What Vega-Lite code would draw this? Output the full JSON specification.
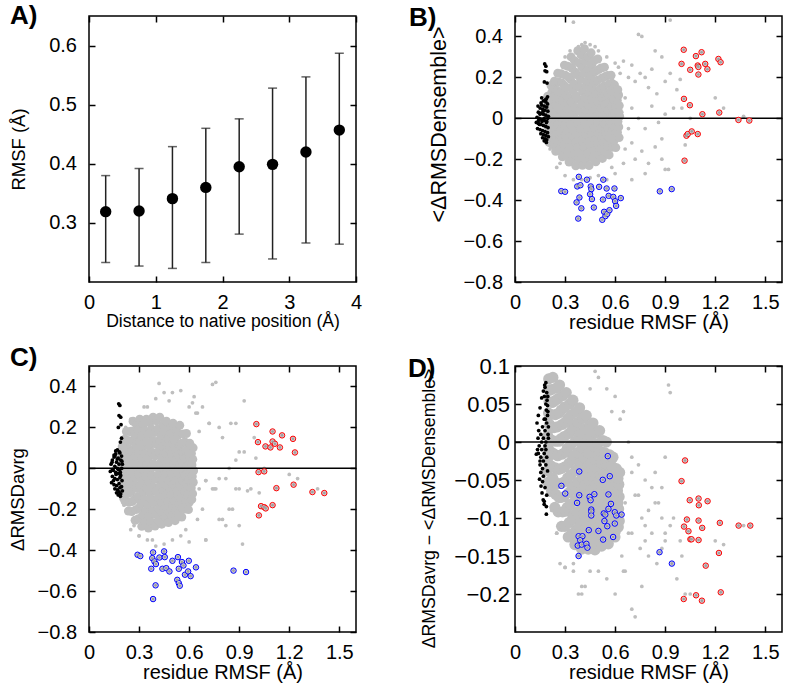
{
"$schema":"https://vega.github.io/schema/vega-lite/v6.json",
"background":"white",
"padding":{"left":7,"top":2,"right":5,"bottom":5},
"config":{
"font":"Liberation Sans",
"view":{"stroke":"#000000","strokeWidth":1.5},
"axis":{"domain":false,"grid":false,"ticks":true,"tickColor":"#000000","tickSize":-6,"tickWidth":1.5,"labelFont":"Liberation Sans","labelFontSize":20,"labelColor":"#000000","labelPadding":18.5,"labelFlush":false,"labelOverlap":false,"titleFont":"Liberation Sans","titleColor":"#000000","titleFontWeight":"normal","titleFontSize":20},
"axisX":{"labelPadding":16},
"axisY":{"labelPadding":18.5},
"title":{"font":"Liberation Sans","fontSize":26,"fontWeight":"bold","color":"#000000","anchor":"start","frame":"group"}
},
"datasets":{
"a":[
{"x":0.25,"m":0.319,"lo":0.233,"hi":0.38},
{"x":0.75,"m":0.32,"lo":0.227,"hi":0.392},
{"x":1.25,"m":0.341,"lo":0.223,"hi":0.429},
{"x":1.75,"m":0.36,"lo":0.233,"hi":0.46},
{"x":2.25,"m":0.395,"lo":0.281,"hi":0.476},
{"x":2.75,"m":0.399,"lo":0.239,"hi":0.528},
{"x":3.25,"m":0.42,"lo":0.266,"hi":0.547},
{"x":3.75,"m":0.457,"lo":0.264,"hi":0.587}
],
"core":[
{"x":0.204,"b":-0.118,"c":-0.034,"d":0.053},{"x":0.194,"b":-0.092,"c":0.078,"d":-0.023},{"x":0.202,"b":-0.068,"c":-0.118,"d":0.083},{"x":0.197,"b":-0.042,"c":0.022,"d":-0.053},{"x":0.207,"b":-0.018,"c":-0.146,"d":0.023},{"x":0.199,"b":0.008,"c":0.106,"d":-0.008},{"x":0.205,"b":0.032,"c":-0.062,"d":0.068},{"x":0.193,"b":0.058,"c":0.05,"d":-0.038},{"x":0.201,"b":0.082,"c":-0.09,"d":0.038},{"x":0.196,"b":0.108,"c":-0.006,"d":0.008},
{"x":0.224,"b":-0.128,"c":0.18,"d":0.019},{"x":0.214,"b":-0.096,"c":0.142,"d":0.036},{"x":0.222,"b":-0.064,"c":0.104,"d":0.052},{"x":0.217,"b":-0.032,"c":0.066,"d":0.069},{"x":0.227,"b":0.0,"c":0.028,"d":0.085},{"x":0.219,"b":0.032,"c":-0.01,"d":-0.064},{"x":0.225,"b":0.064,"c":-0.048,"d":-0.047},{"x":0.213,"b":0.096,"c":-0.086,"d":-0.031},{"x":0.221,"b":0.128,"c":-0.124,"d":-0.014},{"x":0.216,"b":0.16,"c":-0.162,"d":0.003},
{"x":0.244,"b":-0.161,"c":0.179,"d":0.001},{"x":0.234,"b":-0.123,"c":0.136,"d":0.019},{"x":0.242,"b":-0.085,"c":0.093,"d":0.036},{"x":0.237,"b":-0.047,"c":0.05,"d":0.054},{"x":0.247,"b":-0.009,"c":0.007,"d":0.071},{"x":0.239,"b":0.029,"c":-0.037,"d":-0.086},{"x":0.245,"b":0.067,"c":-0.08,"d":-0.069},{"x":0.233,"b":0.105,"c":-0.123,"d":-0.051},{"x":0.241,"b":0.143,"c":-0.166,"d":-0.034},{"x":0.236,"b":0.181,"c":-0.209,"d":-0.016},
{"x":0.264,"b":-0.158,"c":0.23,"d":0.001},{"x":0.254,"b":-0.116,"c":0.181,"d":0.02},{"x":0.262,"b":-0.074,"c":0.132,"d":0.038},{"x":0.257,"b":-0.032,"c":0.083,"d":0.057},{"x":0.267,"b":0.01,"c":0.034,"d":0.075},{"x":0.259,"b":0.052,"c":-0.015,"d":-0.092},{"x":0.265,"b":0.094,"c":-0.064,"d":-0.073},{"x":0.253,"b":0.136,"c":-0.113,"d":-0.055},{"x":0.261,"b":0.178,"c":-0.162,"d":-0.036},{"x":0.256,"b":0.22,"c":-0.211,"d":-0.018},
{"x":0.284,"b":-0.188,"c":0.214,"d":-0.016},{"x":0.274,"b":-0.143,"c":0.162,"d":0.004},{"x":0.282,"b":-0.098,"c":0.11,"d":0.023},{"x":0.277,"b":-0.053,"c":0.058,"d":0.042},{"x":0.287,"b":-0.008,"c":0.006,"d":0.061},{"x":0.279,"b":0.038,"c":-0.046,"d":-0.111},{"x":0.285,"b":0.083,"c":-0.098,"d":-0.092},{"x":0.273,"b":0.128,"c":-0.15,"d":-0.073},{"x":0.281,"b":0.173,"c":-0.202,"d":-0.054},{"x":0.276,"b":0.218,"c":-0.254,"d":-0.035},
{"x":0.304,"b":-0.181,"c":0.24,"d":-0.013},{"x":0.294,"b":-0.132,"c":0.186,"d":0.007},{"x":0.302,"b":-0.083,"c":0.132,"d":0.026},{"x":0.297,"b":-0.034,"c":0.078,"d":0.046},{"x":0.307,"b":0.015,"c":0.024,"d":0.065},{"x":0.299,"b":0.064,"c":-0.03,"d":-0.111},{"x":0.305,"b":0.113,"c":-0.084,"d":-0.091},{"x":0.293,"b":0.162,"c":-0.138,"d":-0.072},{"x":0.301,"b":0.211,"c":-0.192,"d":-0.052},{"x":0.296,"b":0.26,"c":-0.246,"d":-0.033},
{"x":0.324,"b":-0.214,"c":0.213,"d":-0.028},{"x":0.314,"b":-0.162,"c":0.158,"d":-0.008},{"x":0.322,"b":-0.11,"c":0.103,"d":0.011},{"x":0.317,"b":-0.058,"c":0.048,"d":0.031},{"x":0.327,"b":-0.006,"c":-0.008,"d":0.05},{"x":0.319,"b":0.046,"c":-0.063,"d":-0.125},{"x":0.325,"b":0.098,"c":-0.118,"d":-0.106},{"x":0.313,"b":0.15,"c":-0.173,"d":-0.086},{"x":0.321,"b":0.202,"c":-0.228,"d":-0.067},{"x":0.316,"b":0.254,"c":-0.283,"d":-0.047},
{"x":0.344,"b":-0.195,"c":0.24,"d":-0.023},{"x":0.334,"b":-0.14,"c":0.184,"d":-0.004},{"x":0.342,"b":-0.085,"c":0.128,"d":0.016},{"x":0.337,"b":-0.03,"c":0.072,"d":0.036},{"x":0.347,"b":0.025,"c":0.016,"d":0.055},{"x":0.339,"b":0.08,"c":-0.04,"d":-0.121},{"x":0.345,"b":0.135,"c":-0.096,"d":-0.101},{"x":0.333,"b":0.19,"c":-0.152,"d":-0.082},{"x":0.341,"b":0.245,"c":-0.208,"d":-0.062},{"x":0.336,"b":0.3,"c":-0.264,"d":-0.043},
{"x":0.364,"b":-0.232,"c":0.222,"d":-0.038},{"x":0.354,"b":-0.175,"c":0.165,"d":-0.018},{"x":0.362,"b":-0.118,"c":0.108,"d":0.001},{"x":0.357,"b":-0.061,"c":0.051,"d":0.021},{"x":0.367,"b":-0.004,"c":-0.007,"d":0.04},{"x":0.359,"b":0.054,"c":-0.064,"d":-0.135},{"x":0.365,"b":0.111,"c":-0.121,"d":-0.116},{"x":0.353,"b":0.168,"c":-0.178,"d":-0.096},{"x":0.361,"b":0.225,"c":-0.235,"d":-0.077},{"x":0.356,"b":0.282,"c":-0.292,"d":-0.057},
{"x":0.384,"b":-0.201,"c":0.25,"d":-0.033},{"x":0.374,"b":-0.142,"c":0.193,"d":-0.014},{"x":0.382,"b":-0.083,"c":0.136,"d":0.006},{"x":0.377,"b":-0.024,"c":0.079,"d":0.026},{"x":0.387,"b":0.035,"c":0.022,"d":0.045},{"x":0.379,"b":0.094,"c":-0.035,"d":-0.131},{"x":0.385,"b":0.153,"c":-0.092,"d":-0.111},{"x":0.373,"b":0.212,"c":-0.149,"d":-0.092},{"x":0.381,"b":0.271,"c":-0.206,"d":-0.072},{"x":0.376,"b":0.33,"c":-0.263,"d":-0.053},
{"x":0.404,"b":-0.23,"c":0.232,"d":-0.046},{"x":0.394,"b":-0.17,"c":0.175,"d":-0.027},{"x":0.402,"b":-0.11,"c":0.118,"d":-0.008},{"x":0.397,"b":-0.05,"c":0.061,"d":0.012},{"x":0.407,"b":0.01,"c":0.004,"d":0.031},{"x":0.399,"b":0.07,"c":-0.054,"d":-0.141},{"x":0.405,"b":0.13,"c":-0.111,"d":-0.122},{"x":0.393,"b":0.19,"c":-0.168,"d":-0.103},{"x":0.401,"b":0.25,"c":-0.225,"d":-0.084},{"x":0.396,"b":0.31,"c":-0.282,"d":-0.065},
{"x":0.424,"b":-0.2,"c":0.25,"d":-0.039},{"x":0.414,"b":-0.14,"c":0.194,"d":-0.021},{"x":0.422,"b":-0.08,"c":0.138,"d":-0.002},{"x":0.417,"b":-0.02,"c":0.082,"d":0.017},{"x":0.427,"b":0.04,"c":0.026,"d":0.035},{"x":0.419,"b":0.1,"c":-0.03,"d":-0.132},{"x":0.425,"b":0.16,"c":-0.086,"d":-0.113},{"x":0.413,"b":0.22,"c":-0.142,"d":-0.095},{"x":0.421,"b":0.28,"c":-0.198,"d":-0.076},{"x":0.416,"b":0.34,"c":-0.254,"d":-0.058},
{"x":0.444,"b":-0.231,"c":0.213,"d":-0.051},{"x":0.434,"b":-0.172,"c":0.159,"d":-0.033},{"x":0.442,"b":-0.113,"c":0.105,"d":-0.015},{"x":0.437,"b":-0.054,"c":0.051,"d":0.003},{"x":0.447,"b":0.006,"c":-0.003,"d":0.021},{"x":0.439,"b":0.065,"c":-0.057,"d":-0.141},{"x":0.445,"b":0.124,"c":-0.111,"d":-0.123},{"x":0.433,"b":0.183,"c":-0.165,"d":-0.105},{"x":0.441,"b":0.242,"c":-0.219,"d":-0.087},{"x":0.436,"b":0.301,"c":-0.273,"d":-0.069},
{"x":0.464,"b":-0.193,"c":0.23,"d":-0.045},{"x":0.454,"b":-0.136,"c":0.178,"d":-0.028},{"x":0.462,"b":-0.079,"c":0.126,"d":-0.01},{"x":0.457,"b":-0.022,"c":0.074,"d":0.008},{"x":0.467,"b":0.035,"c":0.022,"d":0.025},{"x":0.459,"b":0.092,"c":-0.03,"d":-0.133},{"x":0.465,"b":0.149,"c":-0.082,"d":-0.115},{"x":0.453,"b":0.206,"c":-0.134,"d":-0.098},{"x":0.461,"b":0.263,"c":-0.186,"d":-0.08},{"x":0.456,"b":0.32,"c":-0.238,"d":-0.063},
{"x":0.484,"b":-0.213,"c":0.195,"d":-0.057},{"x":0.474,"b":-0.158,"c":0.144,"d":-0.04},{"x":0.482,"b":-0.103,"c":0.093,"d":-0.023},{"x":0.477,"b":-0.048,"c":0.042,"d":-0.006},{"x":0.487,"b":0.008,"c":-0.01,"d":0.012},{"x":0.479,"b":0.063,"c":-0.061,"d":-0.142},{"x":0.485,"b":0.118,"c":-0.112,"d":-0.125},{"x":0.473,"b":0.173,"c":-0.163,"d":-0.108},{"x":0.481,"b":0.228,"c":-0.214,"d":-0.091},{"x":0.476,"b":0.283,"c":-0.265,"d":-0.074},
{"x":0.504,"b":-0.178,"c":0.22,"d":-0.051},{"x":0.494,"b":-0.126,"c":0.17,"d":-0.035},{"x":0.502,"b":-0.074,"c":0.12,"d":-0.018},{"x":0.497,"b":-0.022,"c":0.07,"d":-0.002},{"x":0.507,"b":0.03,"c":0.02,"d":0.015},{"x":0.499,"b":0.082,"c":-0.03,"d":-0.134},{"x":0.505,"b":0.134,"c":-0.08,"d":-0.117},{"x":0.493,"b":0.186,"c":-0.13,"d":-0.101},{"x":0.501,"b":0.238,"c":-0.18,"d":-0.084},{"x":0.496,"b":0.29,"c":-0.23,"d":-0.068},
{"x":0.524,"b":-0.196,"c":0.186,"d":-0.06},{"x":0.514,"b":-0.147,"c":0.137,"d":-0.044},{"x":0.522,"b":-0.098,"c":0.088,"d":-0.029},{"x":0.517,"b":-0.049,"c":0.039,"d":-0.013},{"x":0.527,"b":0.001,"c":-0.011,"d":0.002},{"x":0.519,"b":0.05,"c":-0.06,"d":-0.137},{"x":0.525,"b":0.099,"c":-0.109,"d":-0.122},{"x":0.513,"b":0.148,"c":-0.158,"d":-0.106},{"x":0.521,"b":0.197,"c":-0.207,"d":-0.091},{"x":0.516,"b":0.246,"c":-0.256,"d":-0.075},
{"x":0.544,"b":-0.164,"c":0.21,"d":-0.056},{"x":0.534,"b":-0.118,"c":0.162,"d":-0.042},{"x":0.542,"b":-0.072,"c":0.114,"d":-0.028},{"x":0.537,"b":-0.026,"c":0.066,"d":-0.014},{"x":0.547,"b":0.02,"c":0.018,"d":0.0},{"x":0.539,"b":0.066,"c":-0.03,"d":-0.126},{"x":0.545,"b":0.112,"c":-0.078,"d":-0.112},{"x":0.533,"b":0.158,"c":-0.126,"d":-0.098},{"x":0.541,"b":0.204,"c":-0.174,"d":-0.084},{"x":0.536,"b":0.25,"c":-0.222,"d":-0.07},
{"x":0.564,"b":-0.179,"c":0.168,"d":-0.069},{"x":0.554,"b":-0.136,"c":0.123,"d":-0.056},{"x":0.562,"b":-0.093,"c":0.078,"d":-0.043},{"x":0.557,"b":-0.05,"c":0.033,"d":-0.03},{"x":0.567,"b":-0.007,"c":-0.013,"d":-0.017},{"x":0.559,"b":0.037,"c":-0.058,"d":-0.134},{"x":0.565,"b":0.08,"c":-0.103,"d":-0.121},{"x":0.553,"b":0.123,"c":-0.148,"d":-0.108},{"x":0.561,"b":0.166,"c":-0.193,"d":-0.095},{"x":0.556,"b":0.209,"c":-0.238,"d":-0.082},
{"x":0.584,"b":-0.141,"c":0.17,"d":-0.064},{"x":0.574,"b":-0.102,"c":0.129,"d":-0.053},{"x":0.582,"b":-0.063,"c":0.088,"d":-0.042},{"x":0.577,"b":-0.024,"c":0.047,"d":-0.031},{"x":0.587,"b":0.015,"c":0.006,"d":-0.02},{"x":0.579,"b":0.054,"c":-0.035,"d":-0.119},{"x":0.585,"b":0.093,"c":-0.076,"d":-0.108},{"x":0.573,"b":0.132,"c":-0.117,"d":-0.097},{"x":0.581,"b":0.171,"c":-0.158,"d":-0.086},{"x":0.576,"b":0.21,"c":-0.199,"d":-0.075},
{"x":0.604,"b":-0.143,"c":0.122,"d":-0.075},{"x":0.594,"b":-0.109,"c":0.086,"d":-0.065},{"x":0.602,"b":-0.075,"c":0.05,"d":-0.055},{"x":0.597,"b":-0.041,"c":0.014,"d":-0.045},{"x":0.607,"b":-0.007,"c":-0.022,"d":-0.035},{"x":0.599,"b":0.027,"c":-0.058,"d":-0.125},{"x":0.605,"b":0.061,"c":-0.094,"d":-0.115},{"x":0.593,"b":0.095,"c":-0.13,"d":-0.105},{"x":0.601,"b":0.129,"c":-0.166,"d":-0.095},{"x":0.596,"b":0.163,"c":-0.202,"d":-0.085},
{"x":0.624,"b":-0.094,"c":0.1,"d":-0.072},{"x":0.614,"b":-0.068,"c":0.072,"d":-0.064},{"x":0.622,"b":-0.042,"c":0.044,"d":-0.056},{"x":0.617,"b":-0.016,"c":0.016,"d":-0.048},{"x":0.627,"b":0.01,"c":-0.012,"d":-0.04},{"x":0.619,"b":0.036,"c":-0.04,"d":-0.112},{"x":0.625,"b":0.062,"c":-0.068,"d":-0.104},{"x":0.613,"b":0.088,"c":-0.096,"d":-0.096},{"x":0.621,"b":0.114,"c":-0.124,"d":-0.088},{"x":0.616,"b":0.14,"c":-0.152,"d":-0.08}
],
"sparse":[
{"x":0.35,"b":0.47,"c":0.3,"d":-0.17},{"x":0.93,"b":0.48,"c":0.33,"d":0.065},{"x":0.74,"b":0.41,"c":0.41,"d":-0.03},{"x":0.76,"b":0.4,"c":0.42,"d":-0.19},{"x":0.42,"b":0.37,"c":0.415,"d":-0.19},{"x":0.4,"b":0.36,"c":0.34,"d":-0.2},{"x":0.3,"b":0.3,"c":-0.33,"d":-0.165},{"x":0.33,"b":0.33,"c":0.3,"d":0.06},{"x":0.38,"b":0.35,"c":-0.35,"d":-0.2},{"x":0.45,"b":0.36,"c":0.37,"d":0.07},{"x":0.5,"b":0.33,"c":0.37,"d":0.085},{"x":0.55,"b":0.3,"c":0.38,"d":0.07},{"x":0.6,"b":0.27,"c":0.3,"d":0.06},{"x":0.63,"b":0.22,"c":0.35,"d":0.03},{"x":0.65,"b":0.28,"c":0.27,"d":0.04},{"x":0.68,"b":0.2,"c":0.3,"d":0.0},{"x":0.7,"b":0.26,"c":-0.06,"d":-0.02},{"x":0.72,"b":0.18,"c":0.22,"d":-0.07},{"x":0.75,"b":0.22,"c":-0.1,"d":-0.14},{"x":0.78,"b":0.2,"c":0.2,"d":-0.05},{"x":0.8,"b":0.15,"c":0.15,"d":-0.15},{"x":0.82,"b":0.24,"c":-0.28,"d":-0.12},{"x":0.85,"b":0.12,"c":0.22,"d":-0.16},{"x":0.88,"b":0.3,"c":0.04,"d":-0.1},{"x":0.9,"b":0.18,"c":0.08,"d":-0.02},{"x":0.93,"b":0.22,"c":0.08,"d":-0.11},{"x":0.97,"b":0.14,"c":-0.1,"d":-0.18},{"x":0.95,"b":0.05,"c":-0.11,"d":-0.1},{"x":0.84,"b":0.33,"c":0.0,"d":-0.08},{"x":0.66,"b":0.1,"c":0.18,"d":-0.08},{"x":0.7,"b":0.05,"c":-0.35,"d":-0.22},{"x":0.74,"b":0.0,"c":-0.1,"d":-0.07},{"x":0.78,"b":-0.05,"c":-0.05,"d":-0.13},{"x":0.82,"b":0.06,"c":-0.05,"d":-0.06},{"x":0.86,"b":-0.02,"c":-0.2,"d":-0.08},{"x":0.9,"b":0.02,"c":-0.28,"d":-0.13},{"x":0.68,"b":-0.05,"c":-0.2,"d":-0.12},{"x":0.64,"b":0.03,"c":0.27,"d":-0.15},{"x":0.66,"b":-0.15,"c":-0.1,"d":-0.17},{"x":0.7,"b":-0.12,"c":-0.06,"d":-0.12},{"x":0.72,"b":-0.2,"c":0.22,"d":-0.23},{"x":0.76,"b":-0.16,"c":-0.1,"d":-0.1},{"x":0.8,"b":-0.22,"c":-0.25,"d":-0.09},{"x":0.84,"b":-0.14,"c":-0.2,"d":-0.04},{"x":0.88,"b":-0.2,"c":-0.1,"d":-0.06},{"x":0.9,"b":-0.25,"c":-0.1,"d":-0.12},{"x":0.92,"b":-0.25,"c":-0.37,"d":0.075},{"x":0.78,"b":-0.27,"c":-0.25,"d":-0.11},{"x":0.7,"b":-0.3,"c":-0.35,"d":-0.04},{"x":0.65,"b":-0.22,"c":-0.25,"d":-0.17},{"x":0.3,"b":-0.28,"c":-0.33,"d":-0.165},{"x":0.35,"b":-0.3,"c":-0.35,"d":-0.16},{"x":0.4,"b":-0.3,"c":-0.38,"d":-0.19},{"x":0.45,"b":-0.29,"c":-0.37,"d":-0.17},{"x":0.5,"b":-0.28,"c":-0.35,"d":-0.17},{"x":0.55,"b":-0.3,"c":-0.33,"d":-0.18},{"x":0.6,"b":-0.27,"c":-0.36,"d":-0.2},{"x":0.25,"b":-0.24,"c":-0.3,"d":-0.12},{"x":0.27,"b":-0.22,"c":-0.28,"d":-0.16},{"x":1.37,"b":0.01,"c":-0.1,"d":-0.11},{"x":1.0,"b":0.05,"c":0.05,"d":-0.15},{"x":0.99,"b":0.19,"c":0.15,"d":-0.13},{"x":1.02,"b":-0.13,"c":-0.12,"d":-0.2},{"x":1.05,"b":0.0,"c":0.0,"d":-0.2},{"x":1.2,"b":0.1,"c":-0.03,"d":-0.13},{"x":1.25,"b":0.05,"c":-0.05,"d":-0.135},{"x":0.62,"b":0.25,"c":0.32,"d":-0.12},{"x":0.58,"b":-0.24,"c":-0.3,"d":0.04},{"x":0.48,"b":0.35,"c":0.33,"d":0.093},{"x":0.21,"b":-0.15,"c":-0.18,"d":-0.07},{"x":0.22,"b":0.17,"c":0.2,"d":-0.09},{"x":0.25,"b":0.22,"c":0.24,"d":-0.12},{"x":0.88,"b":-0.1,"c":0.22,"d":-0.14}
],
"blk":[
{"x":0.178,"b":0.266,"c":0.315,"d":0.075},{"x":0.185,"b":0.255,"c":0.307,"d":0.078},{"x":0.18,"b":0.232,"c":0.258,"d":0.072},{"x":0.19,"b":0.228,"c":0.25,"d":0.065},{"x":0.176,"b":0.178,"c":0.2,"d":0.06},{"x":0.192,"b":0.172,"c":0.213,"d":0.055},{"x":0.195,"b":0.105,"c":0.147,"d":0.048},{"x":0.188,"b":0.095,"c":0.128,"d":0.042},{"x":0.17,"b":0.085,"c":0.09,"d":0.067},{"x":0.185,"b":0.08,"c":0.075,"d":0.05},{"x":0.195,"b":0.07,"c":0.06,"d":0.035},{"x":0.16,"b":0.065,"c":0.07,"d":0.058},{"x":0.175,"b":0.06,"c":0.05,"d":0.03},{"x":0.19,"b":0.055,"c":0.04,"d":0.025},{"x":0.15,"b":0.05,"c":0.055,"d":0.045},{"x":0.165,"b":0.045,"c":0.03,"d":0.02},{"x":0.18,"b":0.04,"c":0.02,"d":0.015},{"x":0.197,"b":0.035,"c":0.035,"d":0.04},{"x":0.14,"b":0.03,"c":0.04,"d":0.035},{"x":0.155,"b":0.025,"c":0.01,"d":0.01},{"x":0.17,"b":0.02,"c":0.0,"d":0.005},{"x":0.185,"b":0.015,"c":-0.005,"d":0.0},{"x":0.2,"b":0.01,"c":0.02,"d":0.02},{"x":0.132,"b":0.005,"c":0.02,"d":0.025},{"x":0.145,"b":0.0,"c":-0.01,"d":-0.005},{"x":0.16,"b":-0.005,"c":-0.02,"d":-0.01},{"x":0.175,"b":-0.01,"c":-0.025,"d":-0.015},{"x":0.19,"b":-0.015,"c":-0.035,"d":-0.02},{"x":0.128,"b":-0.02,"c":-0.015,"d":-0.016},{"x":0.14,"b":-0.025,"c":-0.04,"d":-0.015},{"x":0.155,"b":-0.03,"c":-0.05,"d":-0.02},{"x":0.17,"b":-0.035,"c":-0.055,"d":-0.025},{"x":0.185,"b":-0.04,"c":-0.045,"d":-0.03},{"x":0.198,"b":-0.045,"c":-0.06,"d":0.01},{"x":0.135,"b":-0.05,"c":-0.07,"d":-0.01},{"x":0.15,"b":-0.055,"c":-0.08,"d":-0.03},{"x":0.165,"b":-0.06,"c":-0.085,"d":-0.035},{"x":0.18,"b":-0.065,"c":-0.075,"d":-0.005},{"x":0.195,"b":-0.07,"c":-0.09,"d":-0.038},{"x":0.155,"b":-0.075,"c":-0.1,"d":-0.04},{"x":0.17,"b":-0.08,"c":-0.105,"d":-0.045},{"x":0.185,"b":-0.085,"c":-0.095,"d":-0.01},{"x":0.2,"b":-0.09,"c":-0.11,"d":0.005},{"x":0.165,"b":-0.095,"c":-0.12,"d":-0.052},{"x":0.18,"b":-0.1,"c":-0.115,"d":-0.06},{"x":0.19,"b":-0.105,"c":-0.125,"d":-0.07},{"x":0.175,"b":-0.11,"c":-0.13,"d":-0.078},{"x":0.188,"b":-0.118,"c":-0.137,"d":-0.085},{"x":0.147,"b":-0.03,"c":-0.06,"d":-0.049},{"x":0.156,"b":0.075,"c":0.06,"d":-0.058},{"x":0.162,"b":-0.015,"c":-0.03,"d":-0.067},{"x":0.169,"b":0.035,"c":0.045,"d":-0.076},{"x":0.175,"b":0.0,"c":-0.005,"d":-0.082},{"x":0.188,"b":-0.02,"c":-0.02,"d":-0.095},{"x":0.138,"b":0.06,"c":0.03,"d":0.005},{"x":0.142,"b":-0.01,"c":-0.005,"d":0.015},{"x":0.15,"b":0.02,"c":0.065,"d":-0.025},{"x":0.196,"b":0.0,"c":0.0,"d":0.06},{"x":0.182,"b":0.09,"c":0.08,"d":0.03},{"x":0.16,"b":0.1,"c":0.085,"d":0.0}
],
"hl":[
{"p":"B","g":"red","x":1.011,"y":0.335},{"p":"B","g":"red","x":0.998,"y":0.266},{"p":"B","g":"red","x":1.084,"y":0.304},{"p":"B","g":"red","x":1.118,"y":0.323},{"p":"B","g":"red","x":1.095,"y":0.258},{"p":"B","g":"red","x":1.099,"y":0.251},{"p":"B","g":"red","x":1.05,"y":0.237},{"p":"B","g":"red","x":1.099,"y":0.214},{"p":"B","g":"red","x":1.14,"y":0.266},{"p":"B","g":"red","x":1.153,"y":0.24},{"p":"B","g":"red","x":1.219,"y":0.29},{"p":"B","g":"red","x":1.232,"y":0.274},{"p":"B","g":"red","x":1.0125,"y":0.095},{"p":"B","g":"red","x":1.048,"y":0.064},{"p":"B","g":"red","x":1.123,"y":0.02},{"p":"B","g":"red","x":1.224,"y":0.028},{"p":"B","g":"red","x":1.339,"y":-0.008},{"p":"B","g":"red","x":1.404,"y":-0.011},{"p":"B","g":"red","x":1.0275,"y":-0.085},{"p":"B","g":"red","x":1.035,"y":-0.077},{"p":"B","g":"red","x":1.059,"y":-0.064},{"p":"B","g":"red","x":1.095,"y":-0.077},{"p":"B","g":"red","x":1.016,"y":-0.207},
{"p":"B","g":"blue","x":0.2775,"y":-0.356},{"p":"B","g":"blue","x":0.3,"y":-0.359},{"p":"B","g":"blue","x":0.369,"y":-0.411},{"p":"B","g":"blue","x":0.373,"y":-0.333},{"p":"B","g":"blue","x":0.379,"y":-0.49},{"p":"B","g":"blue","x":0.3825,"y":-0.286},{"p":"B","g":"blue","x":0.386,"y":-0.387},{"p":"B","g":"blue","x":0.392,"y":-0.327},{"p":"B","g":"blue","x":0.3975,"y":-0.44},{"p":"B","g":"blue","x":0.431,"y":-0.3},{"p":"B","g":"blue","x":0.45,"y":-0.371},{"p":"B","g":"blue","x":0.454,"y":-0.333},{"p":"B","g":"blue","x":0.4575,"y":-0.346},{"p":"B","g":"blue","x":0.461,"y":-0.395},{"p":"B","g":"blue","x":0.4725,"y":-0.436},{"p":"B","g":"blue","x":0.504,"y":-0.335},{"p":"B","g":"blue","x":0.523,"y":-0.496},{"p":"B","g":"blue","x":0.527,"y":-0.397},{"p":"B","g":"blue","x":0.529,"y":-0.3},{"p":"B","g":"blue","x":0.534,"y":-0.457},{"p":"B","g":"blue","x":0.542,"y":-0.478},{"p":"B","g":"blue","x":0.549,"y":-0.343},{"p":"B","g":"blue","x":0.553,"y":-0.467},{"p":"B","g":"blue","x":0.561,"y":-0.379},{"p":"B","g":"blue","x":0.566,"y":-0.449},{"p":"B","g":"blue","x":0.589,"y":-0.384},{"p":"B","g":"blue","x":0.596,"y":-0.343},{"p":"B","g":"blue","x":0.6,"y":-0.405},{"p":"B","g":"blue","x":0.606,"y":-0.428},{"p":"B","g":"blue","x":0.634,"y":-0.39},{"p":"B","g":"blue","x":0.868,"y":-0.357},{"p":"B","g":"blue","x":0.939,"y":-0.346},
{"p":"C","g":"red","x":1.003,"y":0.216},{"p":"C","g":"red","x":1.0125,"y":0.128},{"p":"C","g":"red","x":1.0575,"y":0.107},{"p":"C","g":"red","x":1.0875,"y":0.102},{"p":"C","g":"red","x":1.1,"y":0.18},{"p":"C","g":"red","x":1.1,"y":0.131},{"p":"C","g":"red","x":1.114,"y":0.12},{"p":"C","g":"red","x":1.144,"y":0.102},{"p":"C","g":"red","x":1.157,"y":0.161},{"p":"C","g":"red","x":1.2225,"y":0.144},{"p":"C","g":"red","x":1.234,"y":0.0775},{"p":"C","g":"red","x":1.016,"y":-0.0186},{"p":"C","g":"red","x":1.05,"y":-0.015},{"p":"C","g":"red","x":1.123,"y":-0.097},{"p":"C","g":"red","x":1.226,"y":-0.08},{"p":"C","g":"red","x":1.339,"y":-0.116},{"p":"C","g":"red","x":1.41,"y":-0.121},{"p":"C","g":"red","x":1.031,"y":-0.185},{"p":"C","g":"red","x":1.05,"y":-0.19},{"p":"C","g":"red","x":1.059,"y":-0.196},{"p":"C","g":"red","x":1.1,"y":-0.18},{"p":"C","g":"red","x":1.018,"y":-0.23},
{"p":"C","g":"blue","x":0.291,"y":-0.4225},{"p":"C","g":"blue","x":0.3075,"y":-0.429},{"p":"C","g":"blue","x":0.373,"y":-0.491},{"p":"C","g":"blue","x":0.379,"y":-0.439},{"p":"C","g":"blue","x":0.384,"y":-0.411},{"p":"C","g":"blue","x":0.384,"y":-0.639},{"p":"C","g":"blue","x":0.392,"y":-0.455},{"p":"C","g":"blue","x":0.399,"y":-0.572},{"p":"C","g":"blue","x":0.401,"y":-0.468},{"p":"C","g":"blue","x":0.422,"y":-0.436},{"p":"C","g":"blue","x":0.44,"y":-0.491},{"p":"C","g":"blue","x":0.45,"y":-0.406},{"p":"C","g":"blue","x":0.454,"y":-0.434},{"p":"C","g":"blue","x":0.463,"y":-0.488},{"p":"C","g":"blue","x":0.482,"y":-0.504},{"p":"C","g":"blue","x":0.5,"y":-0.452},{"p":"C","g":"blue","x":0.529,"y":-0.545},{"p":"C","g":"blue","x":0.533,"y":-0.434},{"p":"C","g":"blue","x":0.538,"y":-0.491},{"p":"C","g":"blue","x":0.538,"y":-0.561},{"p":"C","g":"blue","x":0.544,"y":-0.574},{"p":"C","g":"blue","x":0.557,"y":-0.458},{"p":"C","g":"blue","x":0.566,"y":-0.475},{"p":"C","g":"blue","x":0.575,"y":-0.52},{"p":"C","g":"blue","x":0.594,"y":-0.504},{"p":"C","g":"blue","x":0.598,"y":-0.452},{"p":"C","g":"blue","x":0.609,"y":-0.527},{"p":"C","g":"blue","x":0.641,"y":-0.484},{"p":"C","g":"blue","x":0.866,"y":-0.5},{"p":"C","g":"blue","x":0.941,"y":-0.507},
{"p":"D","g":"red","x":1.019,"y":-0.0243},{"p":"D","g":"red","x":0.998,"y":-0.0515},{"p":"D","g":"red","x":1.047,"y":-0.0766},{"p":"D","g":"red","x":1.1,"y":-0.0744},{"p":"D","g":"red","x":1.1015,"y":-0.0832},{"p":"D","g":"red","x":1.154,"y":-0.0779},{"p":"D","g":"red","x":1.03,"y":-0.102},{"p":"D","g":"red","x":1.1,"y":-0.1034},{"p":"D","g":"red","x":1.013,"y":-0.1113},{"p":"D","g":"red","x":1.0395,"y":-0.1174},{"p":"D","g":"red","x":1.122,"y":-0.113},{"p":"D","g":"red","x":1.2275,"y":-0.1064},{"p":"D","g":"red","x":1.34,"y":-0.11},{"p":"D","g":"red","x":1.41,"y":-0.11},{"p":"D","g":"red","x":1.051,"y":-0.128},{"p":"D","g":"red","x":1.058,"y":-0.128},{"p":"D","g":"red","x":1.1,"y":-0.129},{"p":"D","g":"red","x":1.222,"y":-0.146},{"p":"D","g":"red","x":1.143,"y":-0.1627},{"p":"D","g":"red","x":1.233,"y":-0.1978},{"p":"D","g":"red","x":1.011,"y":-0.2066},{"p":"D","g":"red","x":1.085,"y":-0.2017},{"p":"D","g":"red","x":1.12,"y":-0.2088},
{"p":"D","g":"blue","x":0.556,"y":-0.0186},{"p":"D","g":"blue","x":0.385,"y":-0.0388},{"p":"D","g":"blue","x":0.526,"y":-0.0498},{"p":"D","g":"blue","x":0.568,"y":-0.045},{"p":"D","g":"blue","x":0.278,"y":-0.0577},{"p":"D","g":"blue","x":0.301,"y":-0.0678},{"p":"D","g":"blue","x":0.385,"y":-0.07},{"p":"D","g":"blue","x":0.372,"y":-0.0801},{"p":"D","g":"blue","x":0.447,"y":-0.0722},{"p":"D","g":"blue","x":0.453,"y":-0.0766},{"p":"D","g":"blue","x":0.4756,"y":-0.0687},{"p":"D","g":"blue","x":0.56,"y":-0.069},{"p":"D","g":"blue","x":0.457,"y":-0.0889},{"p":"D","g":"blue","x":0.457,"y":-0.0915},{"p":"D","g":"blue","x":0.457,"y":-0.0967},{"p":"D","g":"blue","x":0.575,"y":-0.0814},{"p":"D","g":"blue","x":0.56,"y":-0.088},{"p":"D","g":"blue","x":0.532,"y":-0.094},{"p":"D","g":"blue","x":0.541,"y":-0.0955},{"p":"D","g":"blue","x":0.598,"y":-0.0924},{"p":"D","g":"blue","x":0.607,"y":-0.0967},{"p":"D","g":"blue","x":0.639,"y":-0.0955},{"p":"D","g":"blue","x":0.536,"y":-0.104},{"p":"D","g":"blue","x":0.553,"y":-0.1108},{"p":"D","g":"blue","x":0.598,"y":-0.1073},{"p":"D","g":"blue","x":0.442,"y":-0.116},{"p":"D","g":"blue","x":0.5,"y":-0.117},{"p":"D","g":"blue","x":0.588,"y":-0.125},{"p":"D","g":"blue","x":0.528,"y":-0.1284},{"p":"D","g":"blue","x":0.381,"y":-0.124},{"p":"D","g":"blue","x":0.404,"y":-0.124},{"p":"D","g":"blue","x":0.391,"y":-0.1293},{"p":"D","g":"blue","x":0.376,"y":-0.1363},{"p":"D","g":"blue","x":0.4,"y":-0.135},{"p":"D","g":"blue","x":0.428,"y":-0.134},{"p":"D","g":"blue","x":0.434,"y":-0.139},{"p":"D","g":"blue","x":0.381,"y":-0.15},{"p":"D","g":"blue","x":0.866,"y":-0.145},{"p":"D","g":"blue","x":0.94,"y":-0.16}
]
},
"columns":2,
"bounds":"flush",
"spacing":{"row":84,"column":159},
"concat":[
{
"width":267,"height":266,
"title":{"text":"A)","dx":-79,"offset":-14},
"data":{"name":"a"},
"layer":[
{"mark":{"type":"errorbar","ticks":{"size":9,"thickness":1.5,"color":"#222222"},"thickness":1.5,"color":"#222222"},
"encoding":{"x":{"field":"x","type":"quantitative","scale":{"domain":[0,4]},"axis":{"values":[0,1,2,3,4],"format":"~g","title":"Distance to native position (Å)","titleFontSize":17.6,"titlePadding":0}},
"y":{"field":"lo","type":"quantitative","scale":{"domain":[0.2,0.65]},"axis":{"values":[0.3,0.4,0.5,0.6],"format":".1f","title":"RMSF (Å)","titleFontSize":18.5,"titlePadding":20}},
"y2":{"field":"hi"}}},
{"mark":{"type":"circle","size":130,"color":"#000000","opacity":1},
"encoding":{"x":{"field":"x","type":"quantitative","axis":null},"y":{"field":"m","type":"quantitative","axis":null}}},
{"mark":{"type":"point","opacity":0},
"encoding":{"x":{"field":"x","type":"quantitative","axis":{"orient":"top","labels":false,"title":null,"values":[0,1,2,3,4]}},"y":{"field":"m","type":"quantitative","axis":{"orient":"right","labels":false,"title":null,"values":[0.3,0.4,0.5,0.6]}}}}
],
"resolve":{"axis":{"x":"independent","y":"independent"}}
},
{
"width":267,"height":266,
"title":{"text":"B)","dx":-106,"offset":-16},
"layer":[
{"data":{"name":"core"},"mark":{"type":"circle","size":80,"color":"#bebebe","opacity":1},
"encoding":{"x":{"field":"x","type":"quantitative","scale":{"domain":[0,1.5]},"axis":{"values":[0,0.3,0.6,0.9,1.2,1.5],"format":"~g","title":"residue RMSF (Å)","titlePadding":0}},
"y":{"field":"b","type":"quantitative","scale":{"domain":[-0.8,0.5]},"axis":{"values":[-0.8,-0.6,-0.4,-0.2,0,0.2,0.4],"format":"~g","title":"<ΔRMSDensemble>","titleFontSize":21.5,"titlePadding":13,"titleY":108}}}},
{"data":{"name":"sparse"},"mark":{"type":"circle","size":14,"color":"#bebebe","opacity":1},
"encoding":{"x":{"field":"x","type":"quantitative","axis":null},"y":{"field":"b","type":"quantitative","axis":null}}},
{"data":{"values":[{}]},"mark":{"type":"rule","color":"#000000","strokeWidth":1.5},"encoding":{"y":{"datum":0,"type":"quantitative","axis":null}}},
{"data":{"name":"blk"},"mark":{"type":"circle","size":14,"color":"#000000","opacity":1},
"encoding":{"x":{"field":"x","type":"quantitative","axis":null},"y":{"field":"b","type":"quantitative","axis":null}}},
{"data":{"name":"hl"},"transform":[{"filter":"datum.p=='B'"}],"mark":{"type":"circle","size":30,"fill":"#cfcfd4","fillOpacity":1,"strokeWidth":1,"opacity":1},
"encoding":{"x":{"field":"x","type":"quantitative","axis":null},"y":{"field":"y","type":"quantitative","axis":null},"stroke":{"field":"g","type":"nominal","scale":{"domain":["blue","red"],"range":["#0000ff","#ff0000"]},"legend":null}}},
{"data":{"name":"hl"},"transform":[{"filter":"datum.p=='B'"}],"mark":{"type":"circle","size":7,"color":"#a0a0a0","opacity":1},
"encoding":{"x":{"field":"x","type":"quantitative","axis":null},"y":{"field":"y","type":"quantitative","axis":null}}},
{"data":{"name":"blk"},"mark":{"type":"point","opacity":0},
"encoding":{"x":{"field":"x","type":"quantitative","axis":{"orient":"top","labels":false,"title":null,"values":[0,0.3,0.6,0.9,1.2,1.5]}},"y":{"field":"b","type":"quantitative","axis":{"orient":"right","labels":false,"title":null,"values":[-0.8,-0.6,-0.4,-0.2,0,0.2,0.4]}}}}
],
"resolve":{"axis":{"x":"independent","y":"independent"}}
},
{
"width":267,"height":266,
"title":{"text":"C)","dx":-79,"offset":-6},
"layer":[
{"data":{"name":"core"},"mark":{"type":"circle","size":80,"color":"#bebebe","opacity":1},
"encoding":{"x":{"field":"x","type":"quantitative","scale":{"domain":[0,1.5]},"axis":{"values":[0,0.3,0.6,0.9,1.2,1.5],"format":"~g","title":"residue RMSF (Å)","titlePadding":0}},
"y":{"field":"c","type":"quantitative","scale":{"domain":[-0.8,0.5]},"axis":{"values":[-0.8,-0.6,-0.4,-0.2,0,0.2,0.4],"format":"~g","title":"ΔRMSDavrg","titleFontSize":18.5,"titlePadding":10}}}},
{"data":{"name":"sparse"},"mark":{"type":"circle","size":14,"color":"#bebebe","opacity":1},
"encoding":{"x":{"field":"x","type":"quantitative","axis":null},"y":{"field":"c","type":"quantitative","axis":null}}},
{"data":{"values":[{}]},"mark":{"type":"rule","color":"#000000","strokeWidth":1.5},"encoding":{"y":{"datum":0,"type":"quantitative","axis":null}}},
{"data":{"name":"blk"},"mark":{"type":"circle","size":14,"color":"#000000","opacity":1},
"encoding":{"x":{"field":"x","type":"quantitative","axis":null},"y":{"field":"c","type":"quantitative","axis":null}}},
{"data":{"name":"hl"},"transform":[{"filter":"datum.p=='C'"}],"mark":{"type":"circle","size":30,"fill":"#cfcfd4","fillOpacity":1,"strokeWidth":1,"opacity":1},
"encoding":{"x":{"field":"x","type":"quantitative","axis":null},"y":{"field":"y","type":"quantitative","axis":null},"stroke":{"field":"g","type":"nominal","scale":{"domain":["blue","red"],"range":["#0000ff","#ff0000"]},"legend":null}}},
{"data":{"name":"hl"},"transform":[{"filter":"datum.p=='C'"}],"mark":{"type":"circle","size":7,"color":"#a0a0a0","opacity":1},
"encoding":{"x":{"field":"x","type":"quantitative","axis":null},"y":{"field":"y","type":"quantitative","axis":null}}},
{"data":{"name":"blk"},"mark":{"type":"point","opacity":0},
"encoding":{"x":{"field":"x","type":"quantitative","axis":{"orient":"top","labels":false,"title":null,"values":[0,0.3,0.6,0.9,1.2,1.5]}},"y":{"field":"c","type":"quantitative","axis":{"orient":"right","labels":false,"title":null,"values":[-0.8,-0.6,-0.4,-0.2,0,0.2,0.4]}}}}
],
"resolve":{"axis":{"x":"independent","y":"independent"}}
},
{
"width":267,"height":266,
"title":{"text":"D)","dx":-107,"offset":-27},
"layer":[
{"data":{"name":"core"},"mark":{"type":"circle","size":125,"color":"#bebebe","opacity":1},
"encoding":{"x":{"field":"x","type":"quantitative","scale":{"domain":[0,1.5]},"axis":{"values":[0,0.3,0.6,0.9,1.2,1.5],"format":"~g","title":"residue RMSF (Å)","titlePadding":0}},
"y":{"field":"d","type":"quantitative","scale":{"domain":[-0.25,0.1]},"axis":{"values":[-0.2,-0.15,-0.1,-0.05,0,0.05,0.1],"format":"~g","labelFontSize":22,"labelPadding":11.5,"title":"ΔRMSDavrg − <ΔRMSDensemble>","titleFontSize":17.7,"titlePadding":15,"titleY":142}}}},
{"data":{"name":"sparse"},"mark":{"type":"circle","size":14,"color":"#bebebe","opacity":1},
"encoding":{"x":{"field":"x","type":"quantitative","axis":null},"y":{"field":"d","type":"quantitative","axis":null}}},
{"data":{"values":[{}]},"mark":{"type":"rule","color":"#000000","strokeWidth":1.5},"encoding":{"y":{"datum":0,"type":"quantitative","axis":null}}},
{"data":{"name":"blk"},"mark":{"type":"circle","size":14,"color":"#000000","opacity":1},
"encoding":{"x":{"field":"x","type":"quantitative","axis":null},"y":{"field":"d","type":"quantitative","axis":null}}},
{"data":{"name":"hl"},"transform":[{"filter":"datum.p=='D'"}],"mark":{"type":"circle","size":30,"fill":"#cfcfd4","fillOpacity":1,"strokeWidth":1,"opacity":1},
"encoding":{"x":{"field":"x","type":"quantitative","axis":null},"y":{"field":"y","type":"quantitative","axis":null},"stroke":{"field":"g","type":"nominal","scale":{"domain":["blue","red"],"range":["#0000ff","#ff0000"]},"legend":null}}},
{"data":{"name":"hl"},"transform":[{"filter":"datum.p=='D'"}],"mark":{"type":"circle","size":7,"color":"#a0a0a0","opacity":1},
"encoding":{"x":{"field":"x","type":"quantitative","axis":null},"y":{"field":"y","type":"quantitative","axis":null}}},
{"data":{"name":"blk"},"mark":{"type":"point","opacity":0},
"encoding":{"x":{"field":"x","type":"quantitative","axis":{"orient":"top","labels":false,"title":null,"values":[0,0.3,0.6,0.9,1.2,1.5]}},"y":{"field":"d","type":"quantitative","axis":{"orient":"right","labels":false,"title":null,"values":[-0.2,-0.15,-0.1,-0.05,0,0.05,0.1]}}}}
],
"resolve":{"axis":{"x":"independent","y":"independent"}}
}
]
}
